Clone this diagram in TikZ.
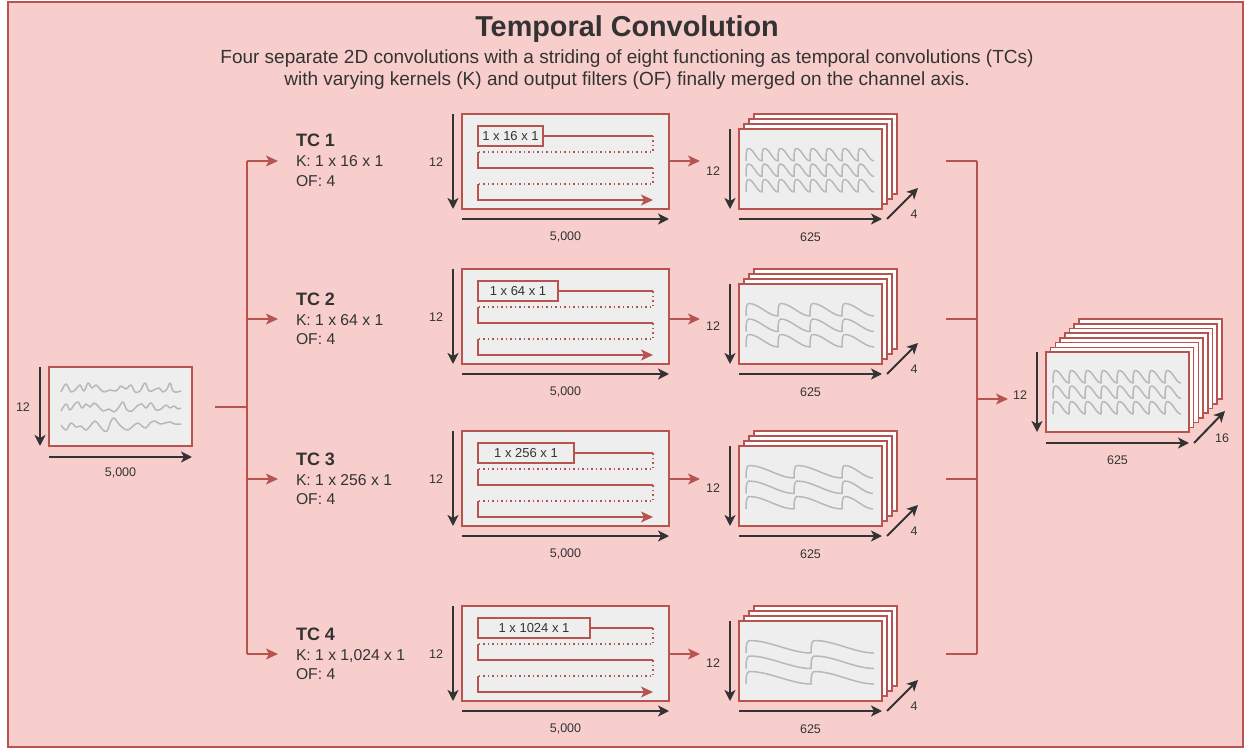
\documentclass[tikz,border=0pt]{standalone}
\usepackage{fontspec}
\setmainfont{Liberation Sans}
\usetikzlibrary{arrows.meta}

\definecolor{redline}{HTML}{B85450}
\definecolor{redfill}{HTML}{F8CECC}
\definecolor{panelgray}{HTML}{EEEEEE}
\definecolor{ink}{HTML}{333333}
\definecolor{wavegray}{HTML}{B8B8B8}

\tikzset{
  every node/.style={text=ink, inner sep=0pt, outer sep=0pt},
  frame/.style={draw=redline, fill=redfill, line width=1.2pt},
  panelbox/.style={draw=redline, fill=panelgray, line width=1.5pt},
  layerbox/.style={draw=redline, fill=white, line width=1.5pt},
  dimarrow/.style={draw=ink, line width=2pt, -{Stealth[length=11pt,width=11pt,inset=3pt]}},
  link/.style={draw=redline, line width=1.5pt},
  linkarrow/.style={link, -{Stealth[length=12pt,width=11pt,inset=3pt]}},
  dimlabel/.style={font=\fontsize{12.5}{14}\selectfont},
  kernelbox/.style={draw=redline, line width=1.5pt, fill=panelgray, minimum height=20pt,
    font=\fontsize{13}{15}\selectfont},
  scanline/.style={draw=redline, line width=1.3pt},
  scandots/.style={scanline, dash pattern=on 1.5pt off 3pt},
  scanarrow/.style={scanline, -{Stealth[length=12pt,width=11pt,inset=3pt]}},
  wave/.style={draw=wavegray, line width=1.5pt, line join=round},
  tctitle/.style={font=\fontsize{18}{20}\selectfont\bfseries},
  tctext/.style={font=\fontsize{15.7}{18}\selectfont},
  subtitle/.style={font=\fontsize{19}{22}\selectfont, anchor=base},
}

% one smoothed sawtooth row: left x, bottom y, amplitude, list of period widths
\newcommand\sawrow[4]{%
  \draw[wave] (#1,#2) \foreach \w in {#4} {
    .. controls +(0,-0.85*#3) and +({-0.6*(2+0.03*\w)},0) .. ++({2+0.03*\w},-#3)
    .. controls +({0.3*\w},0) and +({-0.3*\w},0) .. ++({\w-2-0.03*\w},#3) };
}

% feature-map stack: name, left x, bottom y, number of back layers, layer offset
\newcommand\mapstack[5]{%
  \foreach \k in {#4,...,1}
    \node[layerbox, minimum width=143pt, minimum height=80pt, anchor=south west]
      (#1-layer\k) at ({#2+#5*\k},{#3-#5*\k}) {};
  \node[panelbox, minimum width=143pt, minimum height=80pt, anchor=south west] (#1) at (#2,#3) {};
}

% one temporal-convolution branch:
% index, branch y, conv top, kernel label, kernel box width, wave periods, kernel text
\newcommand\tcbranch[7]{%
  \coordinate (br#1) at (247,#2);
  \coordinate (tc#1-in) at (278,#2);
  \draw[linkarrow] (br#1) -- (tc#1-in);
  \node[tctitle, anchor=base west] (tc#1-name) at (296,#2-14) {TC #1};
  \node[tctext, anchor=base west] (tc#1-k) at (296,#2+6) {K: #7};
  \node[tctext, anchor=base west] (tc#1-of) at (296,#2+25) {OF: 4};
  % input slice scanned by the kernel
  \node[panelbox, minimum width=207pt, minimum height=95pt, anchor=north west] (conv#1) at (462,#3) {};
  \draw[dimarrow] ([xshift=-9pt]conv#1.north west) -- ([xshift=-9pt]conv#1.south west);
  \draw[dimarrow] ([yshift=-10pt]conv#1.south west) -- ([yshift=-10pt]conv#1.south east);
  \node[dimlabel] (conv#1-h) at ([xshift=-26pt,yshift=-1pt]conv#1.west) {12};
  \node[dimlabel] (conv#1-w) at ([yshift=-28pt]conv#1.south) {5,000};
  \node[kernelbox, minimum width=#5pt, anchor=north west] (kern#1) at (478,#3+12) {#4};
  \coordinate (scan#1-r1) at (653,#3+22);
  \coordinate (scan#1-r2) at (653,#3+38);
  \coordinate (scan#1-l2) at (478,#3+38);
  \coordinate (scan#1-l3) at (478,#3+54);
  \coordinate (scan#1-r3) at (653,#3+54);
  \coordinate (scan#1-r4) at (653,#3+70);
  \coordinate (scan#1-l4) at (478,#3+70);
  \coordinate (scan#1-l5) at (478,#3+86);
  \coordinate (scan#1-end) at (653,#3+86);
  \draw[scanline] (kern#1.east) -- (scan#1-r1);
  \draw[scandots] (scan#1-r1) -- (scan#1-r2) -- (scan#1-l2);
  \draw[scanline] (scan#1-l2) -- (scan#1-l3) -- (scan#1-r3);
  \draw[scandots] (scan#1-r3) -- (scan#1-r4) -- (scan#1-l4);
  \draw[scanarrow] (scan#1-l4) -- (scan#1-l5) -- (scan#1-end);
  % convolution output
  \coordinate (conv#1-out) at (conv#1.east |- br#1);
  \coordinate (out#1-in) at (700,#2);
  \draw[linkarrow] (conv#1-out) -- (out#1-in);
  \mapstack{out#1}{739}{#3+95}{3}{5}
  \sawrow{746}{#3+47}{12.5}{#6}
  \sawrow{746}{#3+62.5}{12.5}{#6}
  \sawrow{746}{#3+78}{12.5}{#6}
  \draw[dimarrow] ([xshift=-9pt]out#1.north west) -- ([xshift=-9pt]out#1.south west);
  \draw[dimarrow] ([yshift=-10pt]out#1.south west) -- ([yshift=-10pt]out#1.south east);
  \draw[dimarrow] ([shift={(5pt,-10pt)}]out#1.south east) -- ([shift={(36pt,21pt)}]out#1.south east);
  \node[dimlabel] (out#1-h) at ([xshift=-26pt,yshift=-2pt]out#1.west) {12};
  \node[dimlabel] (out#1-w) at ([yshift=-28pt]out#1.south) {625};
  \node[dimlabel] (out#1-d) at ([shift={(32pt,-5pt)}]out#1.south east) {4};
  % towards the channel merge
  \coordinate (mg#1-a) at (946,#2);
  \coordinate (mg#1) at (977,#2);
  \draw[link] (mg#1-a) -- (mg#1);
}

\begin{document}
\begin{tikzpicture}[x=1pt,y=-1pt]
\useasboundingbox (0,0) rectangle (1251,749);
\fill[white] (0,0) rectangle (1251,749);
\node[frame, minimum width=1235pt, minimum height=745pt, anchor=north west] (panel) at (8,2) {};

% heading
\node[font=\fontsize{28.8}{30}\selectfont\bfseries, anchor=base] (title) at (627,37) {Temporal Convolution};
\node[subtitle] (sub1) at (627,64)
  {Four separate 2D convolutions with a striding of eight functioning as temporal convolutions (TCs)};
\node[subtitle] (sub2) at (627,86)
  {with varying kernels (K) and output filters (OF) finally merged on the channel axis.};

% raw input signal
\node[panelbox, minimum width=143pt, minimum height=79pt, anchor=north west] (input) at (49,367) {};
\draw[wave] plot[smooth, tension=0.6] coordinates {(61,392) (66,384) (71,392) (76,389) (80,385)
  (84,391) (88,383) (92,388) (96,385) (100,389) (104,392) (110,390) (116,391) (121,386) (126,389)
  (131,385) (135,392) (140,391) (145,383) (149,391) (154,390) (159,388) (163,392) (167,389)
  (170,383) (173,391) (177,392) (181,391)};
\draw[wave] plot[smooth, tension=0.6] coordinates {(61,411) (66,404) (70,410) (74,405) (78,402)
  (82,408) (86,404) (90,407) (94,403) (98,406) (103,411) (109,409) (114,412) (119,407) (123,402)
  (127,410) (132,411) (137,406) (142,404) (146,408) (151,403) (156,410) (161,409) (166,405)
  (170,408) (174,406) (178,409) (181,408)};
\draw[wave] plot[smooth, tension=0.6] coordinates {(61,425) (66,430) (71,423) (76,427) (81,426)
  (86,430) (91,425) (95,421) (99,425) (103,430) (107,431) (111,421) (114,418) (118,423) (123,428)
  (128,430) (133,426) (138,423) (142,426) (146,428) (150,423) (155,421) (160,424) (165,423)
  (170,422) (175,424) (181,424)};
\draw[dimarrow] ([xshift=-9pt]input.north west) -- ([xshift=-9pt]input.south west);
\draw[dimarrow] ([yshift=-11pt]input.south west) -- ([yshift=-11pt]input.south east);
\node[dimlabel] (input-h) at ([xshift=-26pt,yshift=-1pt]input.west) {12};
\node[dimlabel] (input-w) at ([yshift=-27pt]input.south) {5,000};

% split into four branches
\coordinate (split-in) at (215,407);
\coordinate (split) at (247,407);
\draw[link] (split-in) -- (split);
\coordinate (trunk-top) at (247,161);
\coordinate (trunk-bot) at (247,654);
\draw[link] (trunk-top) -- (trunk-bot);

\tcbranch{1}{161}{114}{1 x 16 x 1}{65}{16,16,16,16,16,16,16,16}{1 x 16 x 1}
\tcbranch{2}{319}{269}{1 x 64 x 1}{80}{32,32,32,32}{1 x 64 x 1}
\tcbranch{3}{479}{431}{1 x 256 x 1}{96}{48,48,31}{1 x 256 x 1}
\tcbranch{4}{654}{606}{1 x 1024 x 1}{112}{65,63}{1 x 1,024 x 1}

% merge on the channel axis
\draw[link] (mg1) -- (mg4);
\coordinate (mg-out) at (977,399);
\coordinate (final-in) at (1008,399);
\draw[linkarrow] (mg-out) -- (final-in);

\mapstack{final}{1046}{432}{7}{4.7}
\sawrow{1053}{383}{12.5}{16,16,16,16,16,16,16,16}
\sawrow{1053}{398.5}{12.5}{16,16,16,16,16,16,16,16}
\sawrow{1053}{414}{12.5}{16,16,16,16,16,16,16,16}
\draw[dimarrow] ([xshift=-9pt]final.north west) -- ([xshift=-9pt]final.south west);
\draw[dimarrow] ([yshift=-11pt]final.south west) -- ([yshift=-11pt]final.south east);
\draw[dimarrow] ([shift={(5pt,-11pt)}]final.south east) -- ([shift={(36pt,21pt)}]final.south east);
\node[dimlabel] (final-h) at ([xshift=-26pt,yshift=-3pt]final.west) {12};
\node[dimlabel] (final-w) at ([yshift=-28pt]final.south) {625};
\node[dimlabel] (final-d) at ([shift={(33pt,-6pt)}]final.south east) {16};
\end{tikzpicture}
\end{document}
